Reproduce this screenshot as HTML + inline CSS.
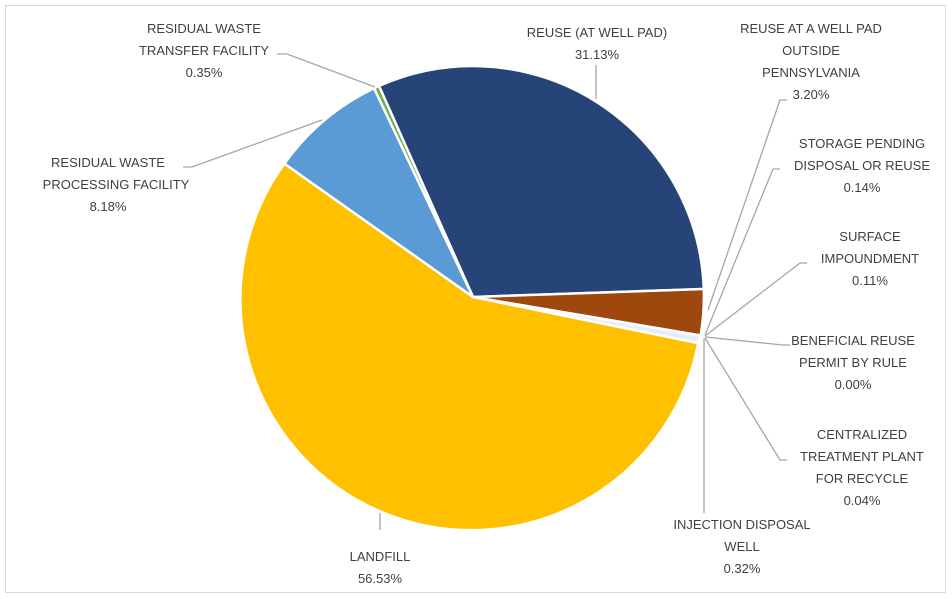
<!DOCTYPE html>
<html><head><meta charset="utf-8"><style>
html,body{margin:0;padding:0;background:#fff}
svg{display:block}
text{font-family:"Liberation Sans",sans-serif;font-size:13px;fill:#404040;text-anchor:middle}
</style></head><body>
<svg width="952" height="599" viewBox="0 0 952 599" xmlns="http://www.w3.org/2000/svg">
<rect x="5.5" y="5.5" width="940" height="587" fill="#fff" stroke="#d9d9d9"/>
<g stroke="#fff" stroke-width="2.5" stroke-linejoin="round">
<path d="M473,297 L379.0,86.0 A231,231 0 0 1 703.8,289.0 Z" fill="#264478"/>
<path d="M473,297 L703.8,289.0 A231,231 0 0 1 700.6,335.5 Z" fill="#9E480E"/>
<path d="M473,297 L700.6,335.5 A231,231 0 0 1 698.2,343.2 Z" fill="#e8ecf4"/>
<path d="M473,297 L698.2,343.2 A231,231 0 1 1 284.4,163.6 Z" fill="#FFC000"/>
<path d="M473,297 L284.4,163.6 A231,231 0 0 1 374.1,88.2 Z" fill="#5B9BD5"/>
<path d="M473,297 L374.1,88.2 A231,231 0 0 1 379.0,86.0 Z" fill="#70AD47"/>
</g>
<g stroke="#a6a6a6" stroke-width="1.3" fill="none">
<polyline points="277,54 287,54 375,87"/>
<polyline points="183,167 192,167 322,120"/>
<polyline points="596,65 596,99"/>
<polyline points="787,100 780,100 708,310"/>
<polyline points="780,169 773,169 705,335"/>
<polyline points="807,263 800,263 705,336"/>
<polyline points="705,337 783,345 790,345"/>
<polyline points="705,338 780,460 787,460"/>
<polyline points="704,338 704,513"/>
<polyline points="380,530 380,513"/>
</g>
<text x="204" y="33">RESIDUAL WASTE</text>
<text x="204" y="55">TRANSFER FACILITY</text>
<text x="204" y="77">0.35%</text>
<text x="108" y="167">RESIDUAL WASTE</text>
<text x="116" y="189">PROCESSING FACILITY</text>
<text x="108" y="211">8.18%</text>
<text x="597" y="37">REUSE (AT WELL PAD)</text>
<text x="597" y="59">31.13%</text>
<text x="811" y="33">REUSE AT A WELL PAD</text>
<text x="811" y="55">OUTSIDE</text>
<text x="811" y="77">PENNSYLVANIA</text>
<text x="811" y="99">3.20%</text>
<text x="862" y="148">STORAGE PENDING</text>
<text x="862" y="170">DISPOSAL OR REUSE</text>
<text x="862" y="192">0.14%</text>
<text x="870" y="241">SURFACE</text>
<text x="870" y="263">IMPOUNDMENT</text>
<text x="870" y="285">0.11%</text>
<text x="853" y="345">BENEFICIAL REUSE</text>
<text x="853" y="367">PERMIT BY RULE</text>
<text x="853" y="389">0.00%</text>
<text x="862" y="439">CENTRALIZED</text>
<text x="862" y="461">TREATMENT PLANT</text>
<text x="862" y="483">FOR RECYCLE</text>
<text x="862" y="505">0.04%</text>
<text x="742" y="529">INJECTION DISPOSAL</text>
<text x="742" y="551">WELL</text>
<text x="742" y="573">0.32%</text>
<text x="380" y="561">LANDFILL</text>
<text x="380" y="583">56.53%</text>
</svg>
</body></html>
